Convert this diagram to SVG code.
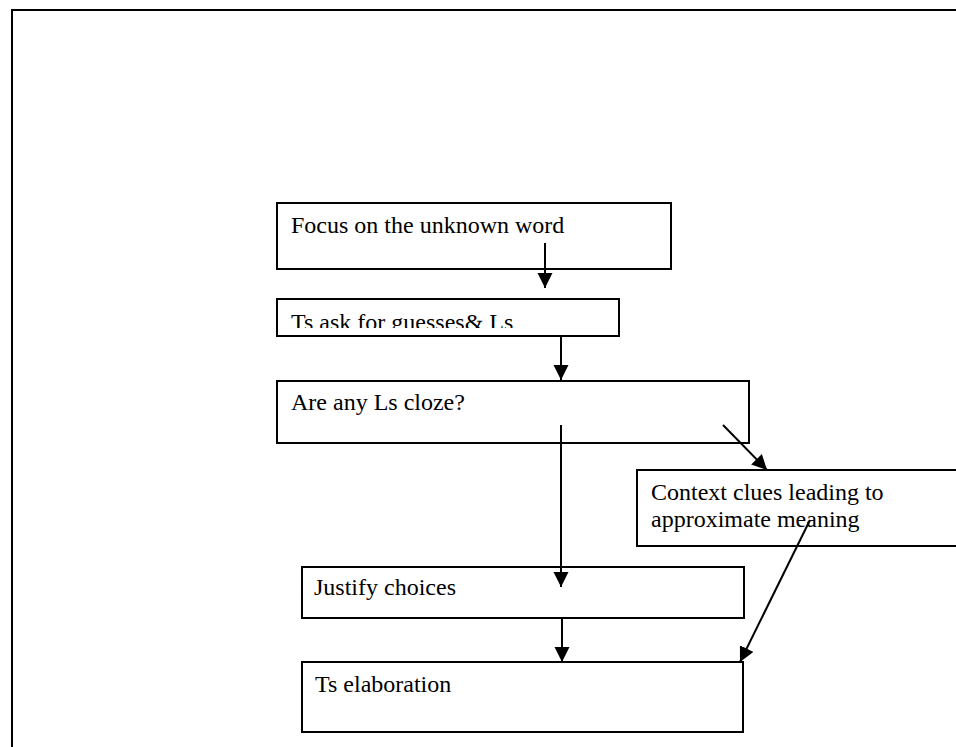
<svg xmlns="http://www.w3.org/2000/svg" width="956" height="747" viewBox="0 0 956 747">
<style>
.box{fill:#fff;stroke:#000;stroke-width:2}
.t{font-family:"Liberation Serif","Times New Roman",serif;font-size:24px;fill:#000}
.c{stroke:#000;stroke-width:2;fill:none;marker-end:url(#ah)}
</style>
<defs>
<marker id="ah" markerUnits="userSpaceOnUse" markerWidth="16" markerHeight="16" refX="15" refY="7.5" orient="auto" viewBox="0 0 16 16">
<path d="M0,0 L15,7.5 L0,15 z" fill="#000"/>
</marker>
<clipPath id="clip2"><rect x="278" y="300" width="340" height="28"/></clipPath>
</defs>
<rect width="956" height="747" fill="#fff"/>
<g id="frame"><path d="M12,747 V10 H956" fill="none" stroke="#000" stroke-width="2"/></g>
<g id="n1"><rect class="box" x="277" y="203" width="394" height="66"/><text class="t" x="291" y="233">Focus on the unknown word</text></g>
<g id="n2"><rect class="box" x="277" y="299" width="342" height="37"/><text class="t" x="291" y="330" clip-path="url(#clip2)">Ts ask for guesses&amp; Ls</text></g>
<g id="n3"><rect class="box" x="277" y="381" width="472" height="62"/><text class="t" x="291" y="410">Are any Ls cloze?</text></g>
<g id="n4"><rect class="box" x="637" y="470" width="330" height="76"/><text class="t" x="651" y="500">Context clues leading to</text><text class="t" x="651" y="527">approximate meaning</text></g>
<g id="n5"><rect class="box" x="302" y="567" width="442" height="51"/><text class="t" x="314" y="595">Justify choices</text></g>
<g id="n6"><rect class="box" x="302" y="662" width="441" height="70"/><text class="t" x="315" y="692">Ts elaboration</text></g>
<g id="connectors">
<line class="c" x1="545" y1="243" x2="545" y2="288"/>
<line class="c" x1="561" y1="337" x2="561" y2="380"/>
<line class="c" x1="723" y1="425" x2="767" y2="470"/>
<line class="c" x1="561" y1="425" x2="561" y2="587"/>
<line class="c" x1="562" y1="618" x2="562" y2="662"/>
<line class="c" x1="810" y1="520" x2="740" y2="662"/>
</g>
</svg>
